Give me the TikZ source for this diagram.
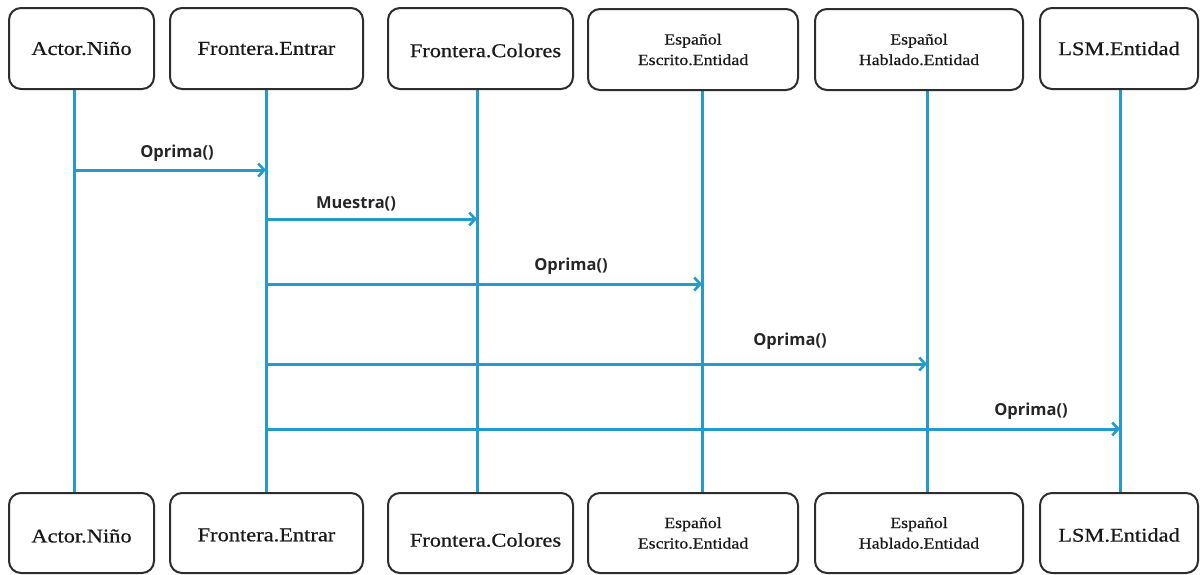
\documentclass[tikz,border=0pt]{standalone}
\usepackage{fontspec}
\setmainfont{Liberation Serif}
\newfontfamily\boxfont[FakeStretch=1.15,FakeBold=0.6]{Liberation Serif}
\newfontfamily\lblfont{Open Sans}
\usetikzlibrary{arrows.meta}
\definecolor{life}{RGB}{36,155,205}
\definecolor{edge}{RGB}{45,45,45}
\newcommand{\lowr}[2]{\raisebox{-#1}[\height][\depth]{#2}}
\tikzset{
  box/.style={draw=edge, line width=2pt, rounded corners=12pt, fill=white, inner sep=0pt},
  bigtxt/.style={font=\boxfont\fontsize{19.5}{22}\selectfont, text=black!90},
  smalltxt/.style={font=\boxfont\fontsize{15.5}{20.5}\selectfont, align=center, text=black!90},
  lifeline/.style={draw=life, line width=3pt},
  msg/.style={draw=life, line width=3pt, -{Straight Barb[length=6pt,width=13pt,line width=2.6pt]}},
  lbl/.style={font=\lblfont\bfseries\fontsize{16.5}{18}\selectfont, text=black!85, inner sep=0pt}
}
\begin{document}
\begin{tikzpicture}[x=1pt,y=-1pt]
\useasboundingbox (0,0) rectangle (1201,574);
% lifeline coordinates
\foreach \n/\x in {1/74,2/266,3/477,4/702,5/927,6/1120}{
  \coordinate (t\n) at (\x,89);
  \coordinate (b\n) at (\x,493);
}
% lifelines
\foreach \n in {1,...,6}{ \draw[lifeline] (t\n) -- (b\n); }
% top boxes
\node[box, minimum width=145pt, minimum height=81pt, bigtxt] (a1) at (81.5,48.5) {Actor.Niño};
\node[box, minimum width=193pt, minimum height=81pt, bigtxt] (a2) at (266.5,48.5) {Frontera.Entrar};
\node[box, minimum width=185pt, minimum height=81pt, bigtxt] (a3) at (480.5,48.5) {\lowr{2pt}{\hspace{10pt}Frontera.Colores}};
\node[box, minimum width=210pt, minimum height=81pt, smalltxt] (a4) at (693,49.5) {Español\\Escrito.Entidad};
\node[box, minimum width=208pt, minimum height=81pt, smalltxt] (a5) at (919,49.5) {Español\\Hablado.Entidad};
\node[box, minimum width=158pt, minimum height=81pt, bigtxt] (a6) at (1119,48.5) {LSM.Entidad};
% bottom boxes
\node[box, minimum width=145pt, minimum height=80pt, bigtxt] (c1) at (81.5,533) {\lowr{3pt}{Actor.Niño}};
\node[box, minimum width=193pt, minimum height=80pt, bigtxt] (c2) at (266.5,533) {\lowr{2pt}{Frontera.Entrar}};
\node[box, minimum width=185pt, minimum height=80pt, bigtxt] (c3) at (480.5,533) {\lowr{7pt}{\hspace{10pt}Frontera.Colores}};
\node[box, minimum width=210pt, minimum height=80pt, smalltxt] (c4) at (693,533) {Español\\Escrito.Entidad};
\node[box, minimum width=208pt, minimum height=80pt, smalltxt] (c5) at (919,533) {Español\\Hablado.Entidad};
\node[box, minimum width=158pt, minimum height=80pt, bigtxt] (c6) at (1119,533) {\lowr{2pt}{LSM.Entidad}};
% message coordinates
\coordinate (m1s) at (74,170);  \coordinate (m1e) at (266,170);
\coordinate (m2s) at (266,219); \coordinate (m2e) at (477,219);
\coordinate (m3s) at (266,284); \coordinate (m3e) at (702,284);
\coordinate (m4s) at (266,364); \coordinate (m4e) at (927,364);
\coordinate (m5s) at (266,429); \coordinate (m5e) at (1120,429);
\draw[msg] (m1s) -- (m1e);
\draw[msg] (m2s) -- (m2e);
\draw[msg] (m3s) -- (m3e);
\draw[msg] (m4s) -- (m4e);
\draw[msg] (m5s) -- (m5e);
% labels
\node[lbl] (l1) at (177,153) {Oprima()};
\node[lbl] (l2) at (356,204) {Muestra()};
\node[lbl] (l3) at (571,266) {Oprima()};
\node[lbl] (l4) at (790,341) {Oprima()};
\node[lbl] (l5) at (1031,411) {Oprima()};
\end{tikzpicture}
\end{document}
